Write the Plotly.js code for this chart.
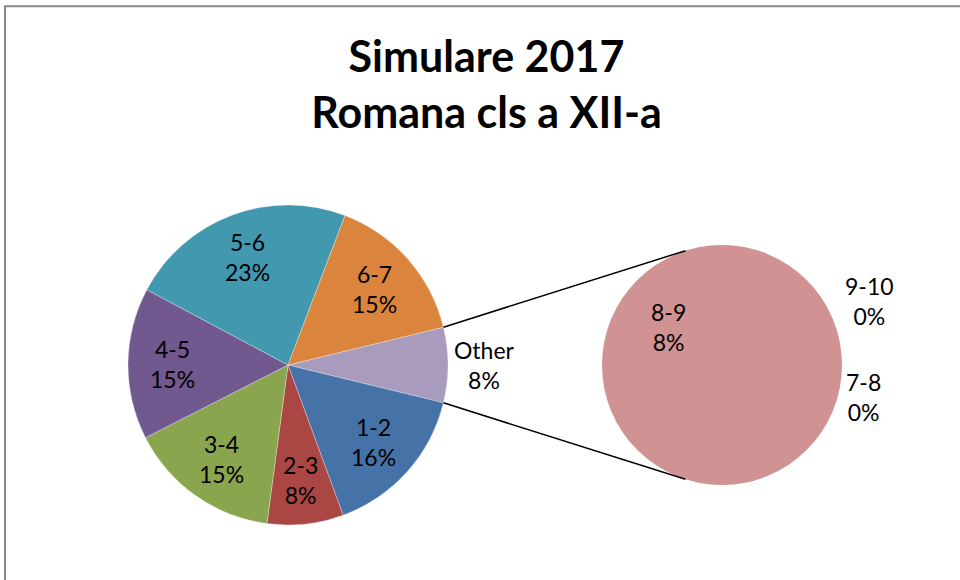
<!DOCTYPE html>
<html>
<head>
<meta charset="utf-8">
<script src="https://cdn.plot.ly/plotly-3.0.1.min.js"></script>
<style>
html,body{margin:0;padding:0;background:#fff;}
#chart{width:960px;height:580px;}
</style>
</head>
<body>
<div id="chart"></div>
<script>
// ---- data (share of students, %) ----
const titleLines = ['Simulare 2017', 'Romana cls a XII-a'];
const mainCats   = ['1-2', '2-3', '3-4', '4-5', '5-6', '6-7'];
const mainVals   = [15.6, 7.7, 15.4, 15.3, 23.0, 15.4];
const otherLabel = 'Other';
const secCats    = ['7-8', '8-9', '9-10'];
const secVals    = [0, 7.6, 0];
const mainColors = ['#4572A7', '#AA4643', '#89A54E', '#71588F', '#4198AF', '#DB843D'];
const otherColor = '#A99BBD';
const secColors  = ['#93A9CF', '#D09293', '#B9CD96'];

// ---- derived ----
const otherVal = secVals.reduce((a, b) => a + b, 0);
const pieLabels = [otherLabel].concat(mainCats);
const pieVals = [otherVal].concat(mainVals);
const pieColors = [otherColor].concat(mainColors);
const total = pieVals.reduce((a, b) => a + b, 0);
const pct = v => Math.round(v / total * 100 + 1e-9) + '%';

// ---- geometry (pixels) ----
const W = 960, H = 580;
const mc = {x: 288, y: 365, r: 160};
const sc = {x: 722, y: 365, r: 120};
const dom = c => ({x: [(c.x - c.r) / W, (c.x + c.r) / W], y: [(H - c.y - c.r) / H, (H - c.y + c.r) / H]});
const px = (c, ang, rf) => {
  const a = ang * Math.PI / 180;
  return [(c.x + rf * c.r * Math.sin(a)) / W, 1 - (c.y - rf * c.r * Math.cos(a)) / H];
};

const otherDeg = otherVal / total * 360;
const rotation = 90 - otherDeg / 2;

const FONT = 'Lato, "Open Sans", sans-serif';
const labelFont = {family: FONT, size: 23, color: '#000'};

const annotations = [];
let cum = 0;
pieVals.forEach((v, i) => {
  const mid = rotation + (cum + v / 2) / total * 360;
  cum += v;
  const rf = i === 0 ? 1.23 : 0.72;
  const p = px(mc, mid, rf);
  annotations.push({
    x: p[0], y: p[1], xref: 'paper', yref: 'paper',
    text: pieLabels[i] + '<br>' + pct(v),
    showarrow: false, font: labelFont, xanchor: 'center', yanchor: 'middle', align: 'center'
  });
});

// secondary pie label offsets (in units of secondary radius)
const secOffsets = [[1.178, 0.265], [-0.45, -0.32], [1.225, -0.535]];
secCats.forEach((c, i) => {
  annotations.push({
    x: (sc.x + secOffsets[i][0] * sc.r) / W,
    y: 1 - (sc.y + secOffsets[i][1] * sc.r) / H,
    xref: 'paper', yref: 'paper',
    text: c + '<br>' + pct(secVals[i]),
    showarrow: false, font: labelFont, xanchor: 'center', yanchor: 'middle', align: 'center'
  });
});

// connector lines from the Other slice to the secondary pie
const connAng = 17.7;
const p1a = px(mc, rotation, 1), p1b = px(sc, -connAng, 1);
const p2a = px(mc, rotation + otherDeg, 1), p2b = px(sc, 180 + connAng, 1);

const shapes = [
  {type: 'line', xref: 'paper', yref: 'paper', x0: p1a[0], y0: p1a[1], x1: p1b[0], y1: p1b[1], line: {color: '#000', width: 1.5}},
  {type: 'line', xref: 'paper', yref: 'paper', x0: p2a[0], y0: p2a[1], x1: p2b[0], y1: p2b[1], line: {color: '#000', width: 1.5}},
  // chart frame (left and top edges)
  {type: 'line', xref: 'paper', yref: 'paper', x0: 5 / W, y0: 1 - 6 / H, x1: 5 / W, y1: 0, line: {color: '#878787', width: 2}},
  {type: 'line', xref: 'paper', yref: 'paper', x0: 4 / W, y0: 1 - 6.3 / H, x1: 1, y1: 1 - 6.3 / H, line: {color: '#878787', width: 2}}
];

const traces = [
  {
    type: 'pie', labels: pieLabels, values: pieVals, sort: false, direction: 'clockwise',
    rotation: rotation, domain: dom(mc), textinfo: 'none', hoverinfo: 'label+percent',
    marker: {colors: pieColors, line: {color: 'rgba(255,255,255,0.5)', width: 0.6}},
    showlegend: false
  },
  {
    type: 'pie', labels: secCats, values: secVals, sort: false, direction: 'clockwise',
    rotation: 0, domain: dom(sc), textinfo: 'none', hoverinfo: 'label+value',
    marker: {colors: secColors, line: {color: 'rgba(255,255,255,0.5)', width: 0}},
    showlegend: false
  }
];

const layout = {
  width: W, height: H,
  margin: {l: 0, r: 0, t: 0, b: 0},
  paper_bgcolor: '#fff', plot_bgcolor: '#fff',
  showlegend: false,
  title: {
    text: titleLines.join('<br>'),
    font: {family: FONT, size: 43, color: '#000', weight: 'bold'},
    x: 486.5 / W, xanchor: 'center', xref: 'container',
    y: 1 - 72 / H, yanchor: 'top', yref: 'container'
  },
  annotations: annotations,
  shapes: shapes
};

Plotly.newPlot('chart', traces, layout, {displayModeBar: false, staticPlot: true});
</script>
</body>
</html>
